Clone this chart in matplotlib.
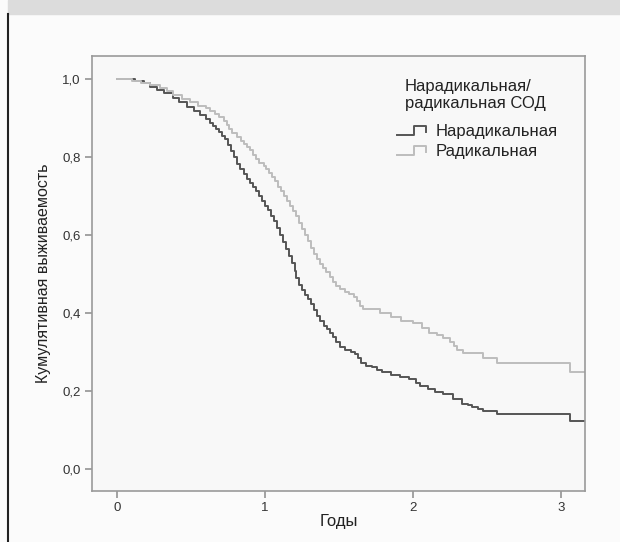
import matplotlib.pyplot as plt
from matplotlib.lines import Line2D
from matplotlib.legend_handler import HandlerBase
from matplotlib.patches import Rectangle
from matplotlib.ticker import FuncFormatter

plt.rcParams['font.family'] = ['Liberation Sans', 'DejaVu Sans']

# Kaplan-Meier steps (time in years, survival)
t_nonrad = [0.00, 0.12, 0.18, 0.22, 0.27, 0.32, 0.38, 0.42, 0.47, 0.52, 0.56,
            0.60, 0.63, 0.65, 0.67, 0.69, 0.71, 0.73, 0.75, 0.77, 0.79, 0.81, 0.83,
            0.86, 0.88, 0.90, 0.92, 0.94, 0.96, 0.98, 1.00, 1.02, 1.04, 1.06, 1.08,
            1.10, 1.12, 1.14, 1.16, 1.18, 1.20, 1.21, 1.23, 1.25, 1.27, 1.29, 1.31,
            1.33, 1.35, 1.37, 1.40, 1.42, 1.44, 1.46, 1.48, 1.51, 1.54, 1.58, 1.61,
            1.63, 1.65, 1.68, 1.72, 1.76, 1.79, 1.85, 1.91, 1.97, 2.02, 2.05, 2.10,
            2.15, 2.20, 2.27, 2.33, 2.37, 2.40, 2.44, 2.47, 2.57, 3.06, 3.16]
s_nonrad = [1.000, 0.995, 0.990, 0.980, 0.972, 0.965, 0.952, 0.940, 0.928, 0.918, 0.908,
            0.897, 0.888, 0.880, 0.872, 0.864, 0.855, 0.845, 0.832, 0.815, 0.800, 0.782, 0.770,
            0.757, 0.745, 0.733, 0.722, 0.712, 0.700, 0.688, 0.675, 0.664, 0.650, 0.636, 0.618,
            0.600, 0.582, 0.565, 0.547, 0.528, 0.508, 0.490, 0.472, 0.458, 0.447, 0.436, 0.424,
            0.408, 0.392, 0.380, 0.368, 0.358, 0.350, 0.338, 0.326, 0.314, 0.306, 0.300, 0.294,
            0.284, 0.272, 0.265, 0.261, 0.255, 0.248, 0.242, 0.236, 0.230, 0.222, 0.214, 0.205,
            0.199, 0.193, 0.180, 0.168, 0.164, 0.160, 0.155, 0.150, 0.141, 0.123, 0.123]

t_rad = [0.00, 0.10, 0.16, 0.22, 0.29, 0.34, 0.38, 0.44, 0.49, 0.55,
         0.60, 0.63, 0.66, 0.69, 0.72, 0.74, 0.76, 0.78, 0.81, 0.84, 0.86, 0.88,
         0.90, 0.92, 0.94, 0.96, 0.99, 1.01, 1.03, 1.05, 1.07, 1.09, 1.11, 1.13,
         1.15, 1.17, 1.19, 1.21, 1.23, 1.25, 1.27, 1.29, 1.31, 1.33, 1.35, 1.37,
         1.39, 1.41, 1.44, 1.46, 1.48, 1.51, 1.54, 1.57, 1.60, 1.62, 1.64, 1.66,
         1.78, 1.85, 1.92, 2.00, 2.06, 2.11, 2.16, 2.20, 2.25, 2.28, 2.30, 2.34,
         2.47, 2.57, 3.06, 3.16]
s_rad = [1.000, 0.995, 0.990, 0.985, 0.978, 0.970, 0.960, 0.950, 0.940, 0.932,
         0.925, 0.918, 0.910, 0.902, 0.893, 0.882, 0.872, 0.862, 0.851, 0.842, 0.834, 0.827,
         0.818, 0.806, 0.795, 0.786, 0.778, 0.770, 0.760, 0.750, 0.738, 0.724, 0.712, 0.700,
         0.688, 0.675, 0.662, 0.648, 0.632, 0.616, 0.600, 0.585, 0.568, 0.552, 0.538, 0.526,
         0.515, 0.505, 0.492, 0.480, 0.470, 0.461, 0.454, 0.448, 0.440, 0.430, 0.419, 0.410,
         0.400, 0.390, 0.380, 0.374, 0.362, 0.350, 0.343, 0.336, 0.326, 0.316, 0.305, 0.297,
         0.285, 0.272, 0.249, 0.249]

labels = ['Нарадикальная', 'Радикальная']
colors = ['#555555', '#bdbdbd']
legend_title = 'Нарадикальная/\nрадикальная СОД'


class StepHandler(HandlerBase):
    # little step glyph like the SPSS legend
    def create_artists(self, legend, orig_handle, xdescent, ydescent,
                       width, height, fontsize, trans):
        w, h = width, height
        xs = [0, 0.55 * w, 0.55 * w, 0.92 * w, 0.92 * w]
        ys = [0.1 * h, 0.1 * h, 0.85 * h, 0.85 * h, 0.4 * h]
        ln = Line2D([x - xdescent for x in xs], [y - ydescent for y in ys],
                    color=orig_handle.get_color(), lw=1.4, transform=trans)
        return [ln]


fig = plt.figure(figsize=(6.2, 5.42), dpi=100)
fig.patch.set_facecolor('#fbfbfb')

# grey header band and left border of the screenshot
fig.patches.append(Rectangle((8 / 620, 1 - 14 / 542), 1, 14 / 542,
                             transform=fig.transFigure, color='#dcdcdc', zorder=0))
fig.add_artist(Line2D([8 / 620, 8 / 620], [0, 1 - 14 / 542], transform=fig.transFigure,
                      color='#222222', lw=1.5))

ax = fig.add_axes([92 / 620, 1 - 491 / 542, (585 - 92) / 620, (491 - 56) / 542])
ax.set_facecolor('#f8f8f8')

h1, = ax.step(t_nonrad, s_nonrad, where='post', color=colors[0], lw=1.4)
h2, = ax.step(t_rad, s_rad, where='post', color=colors[1], lw=1.4)

ax.set_xlim(-0.169, 3.162)
ax.set_ylim(-0.056, 1.059)
ax.set_xticks([0, 1, 2, 3])
ax.set_yticks([0.0, 0.2, 0.4, 0.6, 0.8, 1.0])
ax.yaxis.set_major_formatter(FuncFormatter(lambda v, p: f'{v:.1f}'.replace('.', ',')))

for sp in ax.spines.values():
    sp.set_color('#9a9a9a')
    sp.set_linewidth(1.2)
ax.tick_params(direction='out', length=5, width=1.1, color='#8a8a8a',
               labelsize=9.5, labelcolor='#333333', pad=3)

ax.set_xlabel('Годы', fontsize=12, color='#222222', labelpad=0)
ax.set_ylabel('Кумулятивная выживаемость', fontsize=11.5, color='#222222', labelpad=8)

# legend title drawn separately so it sits right of the handles, as in SPSS
ax.text(0.635, 0.947, legend_title, transform=ax.transAxes, ha='left', va='top',
        fontsize=12, color='#222222', linespacing=1.2)
leg = ax.legend([h1, h2], labels, loc='upper left', bbox_to_anchor=(0.619, 0.843),
                frameon=False, fontsize=12, handlelength=1.85, handletextpad=0.45,
                labelspacing=0.3, borderpad=0, borderaxespad=0,
                handler_map={h1: StepHandler(), h2: StepHandler()})
for txt in leg.get_texts():
    txt.set_color('#222222')

fig.savefig('out.png', dpi=100, facecolor=fig.get_facecolor())
